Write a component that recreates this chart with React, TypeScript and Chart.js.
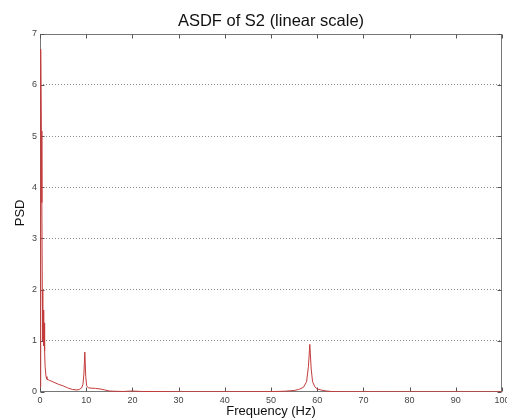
import React, { useEffect, useRef } from 'react';
import { Chart, registerables } from 'chart.js';

Chart.register(...registerables);

const chartTitle = 'ASDF of S2 (linear scale)';
const xLabel = 'Frequency (Hz)';
const yLabel = 'PSD';

const freqHz = [
  0, 0.1, 0.2, 0.3, 0.4, 0.5, 0.6, 0.7, 0.8, 0.9, 1.0, 1.1, 1.3, 1.5, 2, 3, 4, 5, 6, 7, 8, 8.5, 9,
  9.3, 9.5, 9.7, 9.9, 10.1, 10.5, 12, 13, 14, 15, 16, 18, 20, 22, 25, 30, 40, 50, 53, 55, 56, 57,
  57.7, 58.1, 58.4, 58.7, 59, 59.5, 60, 61, 62, 63, 65, 70, 80, 90, 100,
];
const psd = [
  0.1, 2.0, 6.7, 5.1, 3.7, 2.0, 1.0, 1.6, 0.9, 1.35, 0.8, 0.5, 0.3, 0.25, 0.23, 0.19, 0.15, 0.12, 0.08, 0.05, 0.04, 0.05, 0.08,
  0.15, 0.35, 0.78, 0.3, 0.12, 0.08, 0.07, 0.06, 0.04, 0.02, 0.015, 0.01, 0.02, 0.01, 0.01, 0.005, 0.005, 0.008, 0.015, 0.03, 0.05, 0.09,
  0.2, 0.5, 0.93, 0.45, 0.2, 0.1, 0.06, 0.035, 0.02, 0.01, 0.006, 0.005, 0.004, 0.004, 0.003,
];
const xRange = [0, 100];
const xStep = 10;
const yRange = [0, 7];
const yStep = 1;

const framePlugin = {
  id: 'matlabFrame',
  beforeDatasetsDraw(chart: any) {
    const { ctx, chartArea: a, scales } = chart;
    ctx.save();
    ctx.strokeStyle = '#777';
    ctx.lineWidth = 1;
    const L = Math.round(a.left) + 0.5;
    const R = Math.round(a.right) - 0.5;
    const T = Math.round(a.top) + 0.5;
    const B = Math.round(a.bottom) - 0.5;
    ctx.strokeRect(L, T, R - L, B - T);
    const tl = 4;
    ctx.strokeStyle = '#555';
    ctx.beginPath();
    scales.x.ticks.forEach((t: any) => {
      const px = Math.round(scales.x.getPixelForValue(t.value)) + 0.5;
      ctx.moveTo(px, B); ctx.lineTo(px, B - tl);
      ctx.moveTo(px, T); ctx.lineTo(px, T + tl);
    });
    scales.y.ticks.forEach((t: any) => {
      const py = Math.round(scales.y.getPixelForValue(t.value)) + 0.5;
      ctx.moveTo(L, py); ctx.lineTo(L + tl, py);
      ctx.moveTo(R, py); ctx.lineTo(R - tl, py);
    });
    ctx.stroke();
    ctx.restore();
  },
};

export default function App() {
  const ref = useRef<HTMLCanvasElement | null>(null);
  useEffect(() => {
    document.body.style.margin = '0';
    const canvas = ref.current!;
    const points = freqHz.map((f, i) => ({ x: f, y: psd[i] }));
    const chart = new Chart(canvas, {
      type: 'line',
      data: {
        datasets: [
          {
            data: points,
            borderColor: '#c43c3c',
            borderWidth: 1,
            pointRadius: 0,
            tension: 0,
            fill: false,
          },
        ],
      },
      options: {
        animation: false,
        responsive: false,
        layout: { padding: { left: 0, right: 5, top: 0, bottom: 0 } },
        plugins: {
          legend: { display: false },
          tooltip: { enabled: false },
          title: {
            display: true,
            fullSize: false,
            text: chartTitle,
            color: '#111',
            font: { family: 'Liberation Sans, Arial, sans-serif', size: 16.5, weight: 'normal' },
            padding: { top: 12, bottom: 2 },
          },
        },
        scales: {
          x: {
            type: 'linear',
            min: xRange[0],
            max: xRange[1],
            ticks: {
              stepSize: xStep,
              color: '#444',
              padding: 3,
              maxRotation: 0,
              font: { family: 'Liberation Sans, Arial, sans-serif', size: 9 },
            },
            grid: { display: false, drawTicks: false },
            border: { display: false },
            title: {
              display: true,
              text: xLabel,
              color: '#111',
              font: { family: 'Liberation Sans, Arial, sans-serif', size: 13 },
              padding: { top: 0, bottom: 0 },
            },
            afterFit(scale: any) {
              scale.height = 27;
              scale.paddingLeft = 0;
              scale.paddingRight = 0;
            },
          },
          y: {
            type: 'linear',
            min: yRange[0],
            max: yRange[1],
            ticks: {
              stepSize: yStep,
              color: '#444',
              padding: 3,
              font: { family: 'Liberation Sans, Arial, sans-serif', size: 9 },
            },
            grid: {
              drawTicks: false,
              lineWidth: 1,
              color: (ctx: any) =>
                ctx.tick && (ctx.tick.value === yRange[0] || ctx.tick.value === yRange[1])
                  ? 'rgba(0,0,0,0)'
                  : '#8a8a8a',
            },
            border: { display: false, dash: [1, 2] },
            title: {
              display: true,
              text: yLabel,
              color: '#111',
              font: { family: 'Liberation Sans, Arial, sans-serif', size: 13 },
              padding: { top: 13, bottom: 0 },
            },
            afterFit(scale: any) {
              scale.width = 40;
            },
          },
        },
      },
      plugins: [framePlugin],
    });
    return () => chart.destroy();
  }, []);
  return (
    <div style={{ width: 507, height: 419, background: '#fff' }}>
      <canvas ref={ref} width={507} height={419} style={{ display: 'block' }} />
    </div>
  );
}
